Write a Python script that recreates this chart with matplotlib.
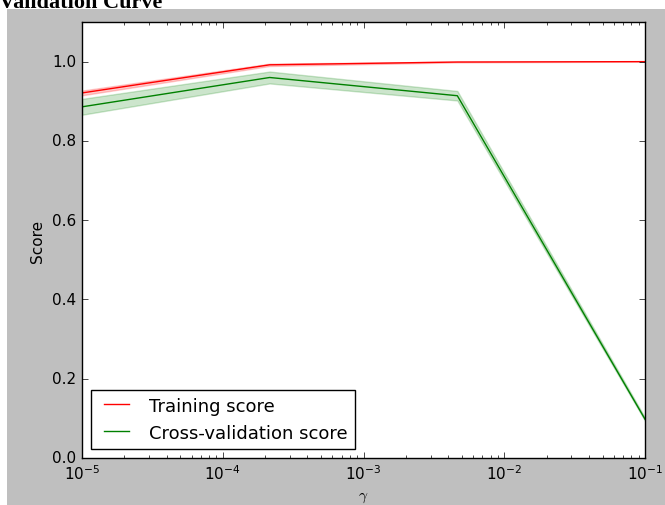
import numpy as np
import matplotlib.pyplot as plt
from matplotlib.patches import Rectangle

plt.style.use("classic")

# gamma values and scores (mean +- std)
param_range = [1e-5, 2.154e-4, 4.642e-3, 1e-1]
train_mean = [0.921, 0.992, 0.999, 1.0]
train_std = [0.006, 0.003, 0.001, 0.0]
test_mean = [0.886, 0.960, 0.914, 0.098]
test_std = [0.020, 0.015, 0.012, 0.004]

train_mean = np.array(train_mean)
train_std = np.array(train_std)
test_mean = np.array(test_mean)
test_std = np.array(test_std)

fig = plt.figure(figsize=(6.65, 5.06), dpi=100, facecolor="white")
# gray figure background, page-like white strip above
fig.patches.append(Rectangle((7 / 665, 0), 1, 496 / 506, transform=fig.transFigure,
                             facecolor="0.75", edgecolor="none", zorder=-10))

fig.text(-0.002, 1 - 8 / 506, "Validation Curve", family="Liberation Serif",
         weight="bold", size=16, ha="left", va="baseline")

ax = fig.add_axes([82 / 665, 47 / 506, 563 / 665, 436 / 506])

ax.semilogx(param_range, train_mean, color="r", label="Training score")
ax.fill_between(param_range, train_mean - train_std, train_mean + train_std,
                alpha=0.2, color="r")
ax.semilogx(param_range, test_mean, color="g", label="Cross-validation score")
ax.fill_between(param_range, test_mean - test_std, test_mean + test_std,
                alpha=0.2, color="g")

ax.set_ylim(0.0, 1.1)
ax.set_xlim(1e-5, 1e-1)
ax.set_yticks([0.0, 0.2, 0.4, 0.6, 0.8, 1.0])
ax.tick_params(labelsize=11)
ax.set_xlabel(r"$\gamma$", fontsize=11)
ax.set_ylabel("Score", fontsize=11)
ax.legend(loc="lower left", fontsize=13)

plt.savefig("out.png", dpi=100, facecolor=fig.get_facecolor())
